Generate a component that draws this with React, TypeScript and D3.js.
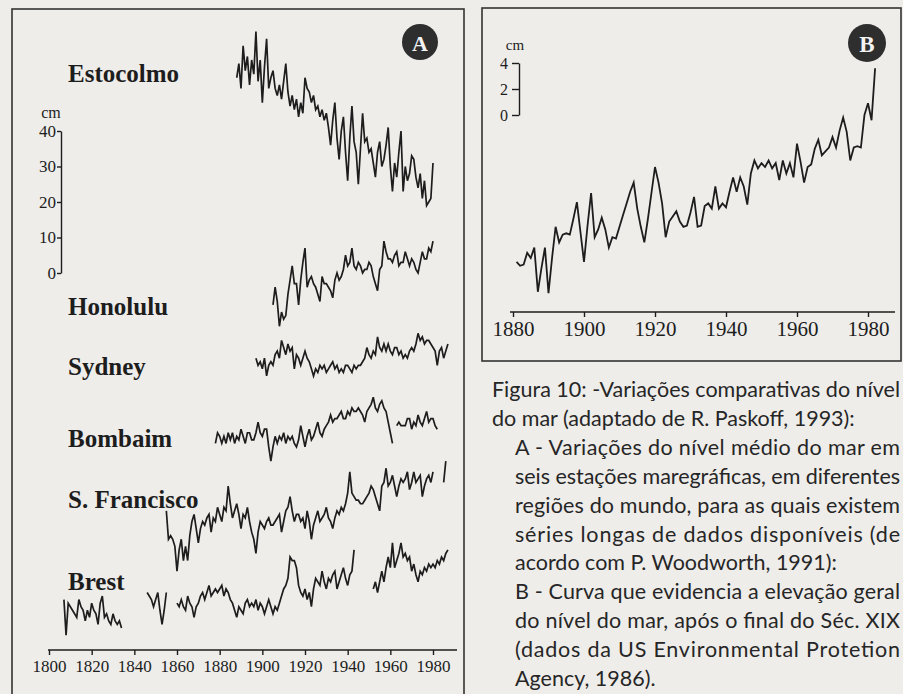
import React, { useEffect, useRef } from "react";
import { select, scaleLinear, line, axisBottom, axisLeft } from "d3";

// ---- panel A: annual mean sea level per tide-gauge station (cm, null = no record)
const stationNames = ["Estocolmo", "Honolulu", "Sydney", "Bombaim", "S. Francisco", "Brest"];
const stationStart = [1888, 1905, 1897, 1878, 1855, 1807];

const estocolmo = [
  15, 19, 12, 24, 17, 21, 13, 20, 16, 28,
  14, 20, 8, 18, 26, 12, 15, 17, 12, 10,
  13, 9, 14, 19, 11, 7, 10, 6, 9, 4,
  8, 5, 15, 12, 11, 8, 10, 6, 7, 4,
  6, 3, 5, 1, -4, 3, 8, -2, -8, 0,
  4, -6, -14, -2, 7, -3, -6, -15, -5, 5,
  -3, -2, -6, -5, -9, -13, -6, -3, -10, -8,
  -4, 1, -10, -17, -9, -13, -6, 0, -17, -10,
  -14, -12, -7, -8, -13, -16, -12, -19, -14, -21,
  -20, -19, -9,
];
const honolulu = [
  -9, -4, -8, -15, -11, -13, -12, -6, -2, 2,
  -3, -3, -9, -2, 3, 7, -4, -2, -1, -3,
  -4, -6, -8, -1, -3, -3, -4, -5, -7, -2,
  0, -2, -1, 1, 5, 2, 3, 7, 2, 1,
  3, 2, 0, 1, 1, 3, 2, -1, -3, -5,
  1, 2, 9, 6, 4, 4, 3, 5, 6, 2,
  3, 3, 6, 4, 2, 4, 3, 1, 0, 3,
  6, 4, 4, 7, 6, 9,
];
const sydney = [
  1, -1, 0, -2, 1, -4, -1, 0, -1, 2,
  3, 1, 6, 4, 2, 5, 3, 4, -2, 2,
  1, -1, 1, 3, 1, 0, -2, -4, -2, -3,
  -1, -2, -1, -3, -2, -1, 0, -2, -1, -3,
  -2, -3, -1, -1, -2, -3, -1, -2, -1, -1,
  0, 1, 4, 2, 1, 3, 2, 7, 4, 3,
  5, 3, 5, 3, 2, 4, 4, 2, 3, 1,
  2, 1, 3, 4, 3, 5, 8, 6, 7, 5,
  6, 6, 5, 4, 3, -1, 3, 4, 1, 3,
  5,
];
const bombaim = [
  2, 5, 4, 2, 4, 2, 5, 3, 5, 2,
  4, 3, 6, 4, 2, 5, 5, 3, 3, 5,
  8, 5, 4, 6, 6, 1, -3, 1, 4, 2,
  4, 3, 5, 2, 4, 3, 4, 2, 1, 3,
  7, 4, 1, 4, 6, 3, 4, 6, 8, 5,
  4, 6, 7, 8, 10, 8, 9, 9, 10, 11,
  9, 9, 11, 10, 12, 11, 11, 12, 11, 10,
  8, 11, 12, 13, 15, 12, 11, 13, 14, 12,
  11, 8, 5, 2,
  null,
  7, 8, 7, 7, 7, 9, 9, 6, 8, 7,
  10, 8, 7, 9, 11, 8, 9, 9, 7, 6,
];
const sFrancisco = [
  8, 0, 1, 0, -2, -9, -3, 0, -6, -2,
  -6, 1, 5, 7, 3, -1, 3, 5, 4, 6,
  7, 2, 6, 5, 9, 7, 5, 9, 8, 15,
  10, 6, 8, 10, 7, 3, 7, 6, 9, 5,
  2, 0, -4, 2, 5, 4, 3, 5, 6, 4,
  4, 5, 6, 7, 2, 5, 8, 9, 12, 8,
  5, 7, 7, 5, 6, 3, 8, 5, 0, 4,
  6, 8, 5, 6, 7, 9, 6, 5, 3, 6,
  8, 7, 9, 8, 10, 13, 19, 13, 12, 11,
  11, 10, 10, 11, 12, 13, 15, 14, 12, 10,
  8, 15, 16, 20, 15, 16, 18, 15, 12, 15,
  17, 16, 17, 19, 14, 16, 19, 16, 17, 18,
  12, 15, 17, 18, 16, 19,
  null, null, null, null,
  16, 22,
];
const brest = [
  8, -2, 7, 6, 5, 4, 3, 8, 6, 5, 2, 5, 3, 7, 5, 4, 1, 7, 9, 3, 4, 2, 1, 4, 2, 1, 2, 0,
  null, null, null, null, null, null, null, null, null, null, null,
  10, 9, 8, 6, 8, 10, 5, 1, 5, 10,
  null, null, null, null,
  7, 6, 8, 6, 5, 9, 7, 6, 3, 6,
  7, 9, 10, 8, 10, 12, 9, 10, 11, 10,
  11, 12, 9, 11, 10, 8, 7, 5, 3, 6,
  5, 4, 7, 8, 6, 7, 6, 8, 5, 7,
  6, 4, 6, 8, 6, 4, 6, 5, 7, 9,
  11, 12, 14, 20, 19, 19, 17, 12, 10, 9,
  11, 8, 10, 6, 11, 14, 13, 12, 16, 13,
  11, 14, 13, 15, 16, 11, 13, 15, 17, 14,
  12, 15, 16, 22,
  null, null, null, null, null, null, null, null,
  11, 13, 10, 13, 16, 13, 17, 20, 17, 24,
  17, 19, 21, 24, 20, 21, 19, 20, 16, 18,
  15, 13, 16, 15, 17, 16, 18, 17, 18, 17,
  19, 18, 20, 19, 21, 22,
];
const stationSeries = [estocolmo, honolulu, sydney, bombaim, sFrancisco, brest];

const yearTicksA = [1800, 1820, 1840, 1860, 1880, 1900, 1920, 1940, 1960, 1980];
const cmTicksA = [0, 10, 20, 30, 40];

// ---- panel B: global mean sea level (cm)
const globalStart = 1881;
const globalLevel = [
  -11.3, -11.6, -11.5, -10.6, -11.0, -10.2, -13.6, -11.8, -10.2, -13.7,
  -11.0, -8.6, -9.8, -9.2, -9.1, -9.2, -8.0, -6.7, -9.0, -11.3,
  -8.5, -6.0, -9.4, -8.8, -7.9, -8.8, -10.2, -9.4, -9.5, -8.6,
  -7.7, -6.8, -5.9, -5.2, -7.2, -8.6, -9.8, -8.0, -6.0, -4.0,
  -5.2, -6.8, -9.4, -8.2, -7.8, -7.4, -8.2, -8.6, -8.5, -7.5,
  -6.3, -8.6, -8.5, -7.0, -6.8, -7.2, -5.5, -7.2, -6.8, -7.1,
  -5.9, -4.8, -5.9, -4.8, -5.5, -6.9, -4.5, -3.5, -4.1, -3.7,
  -4.0, -3.5, -4.1, -3.7, -5.0, -3.5, -4.5, -3.7, -4.8, -2.2,
  -3.6, -5.2, -4.0, -3.8, -2.6, -1.9, -3.1, -2.8, -2.5, -1.7,
  -2.5, -1.2, -0.2, -1.3, -3.5, -2.5, -2.4, -2.5, 0.0, 0.9,
  -0.4, 3.6,
];
const yearTicksB = [1880, 1900, 1920, 1940, 1960, 1980];
const cmTicksB = [0, 2, 4];

const captionLines = [
  "Figura 10: -Variações comparativas do nível",
  "do mar (adaptado de R. Paskoff, 1993):",
  "A - Variações do nível médio do mar em",
  "seis estações maregráficas, em diferentes",
  "regiões do mundo, para as quais existem",
  "séries longas de dados disponíveis (de",
  "acordo com P. Woodworth, 1991):",
  "B - Curva que evidencia a elevação geral",
  "do nível do mar, após o final do Séc. XIX",
  "(dados da US Environmental Protetion",
  "Agency, 1986).",
];

// layout (pixels / lane shifts), kept apart from the data
const W = 903;
const H = 694;
const LANE_SHIFT_CM = [40, 0, -25, -50, -75, -100];
const LABEL_Y = [82, 315, 375, 447, 508, 590];
const CAPTION_X0 = [492, 492, 515, 515, 515, 515, 515, 515, 515, 515, 515];
// right edge for justified lines, 0 = paragraph end (natural width)
const CAPTION_X1 = [900, 0, 900, 900, 900, 900, 0, 900, 900, 900, 0];

const PAPER = "#eeedea";
const INK = "#1d1d1d";
const FRAME = "#333333";
const SERIF = "'Liberation Serif', 'Times New Roman', serif";
const SANS = "Lato, 'Open Sans', sans-serif";

function App() {
  const svgRef = useRef<SVGSVGElement>(null);

  useEffect(() => {
    const svg = select(svgRef.current);
    svg.selectAll("*").remove();
    svg.append("rect").attr("width", W).attr("height", H).attr("fill", PAPER);

    // ---------- panel A
    const xA = scaleLinear().domain([1800, 1980]).range([49, 433]);
    const yA = scaleLinear().domain([0, 40]).range([273, 131]);
    const a = svg.append("g");

    a.append("rect")
      .attr("x", 12).attr("y", 9).attr("width", 452).attr("height", 720)
      .attr("fill", "none").attr("stroke", FRAME).attr("stroke-width", 1.6);

    stationSeries.forEach((vals, k) => {
      const start = stationStart[k];
      const shift = LANE_SHIFT_CM[k];
      const gen = line<number | null>()
        .defined(d => d != null)
        .x((_, i) => xA(start + i))
        .y(d => yA((d as number) + shift));
      a.append("path")
        .attr("d", gen(vals))
        .attr("fill", "none")
        .attr("stroke", INK)
        .attr("stroke-width", 1.7);
    });

    a.selectAll("text.station")
      .data(stationNames)
      .join("text")
      .attr("class", "station")
      .attr("x", 68)
      .attr("y", (_, i) => LABEL_Y[i])
      .attr("font-family", SERIF)
      .attr("font-weight", 700)
      .attr("font-size", 25)
      .attr("fill", INK)
      .text(d => d);

    const axA = a.append("g")
      .attr("transform", "translate(0,650)")
      .call(axisBottom(xA).tickValues(yearTicksA).tickSize(5).tickPadding(5).tickFormat(d => String(d)));
    axA.select(".domain").remove();
    axA.append("line").attr("x1", 48).attr("x2", 457).attr("stroke", INK).attr("stroke-width", 1.5);
    axA.selectAll(".tick line").attr("stroke", INK).attr("stroke-width", 1.4);
    axA.selectAll("text").attr("font-family", SERIF).attr("font-size", 17).attr("fill", INK);

    const ayA = a.append("g")
      .attr("transform", "translate(61,0)")
      .call(axisLeft(yA).tickValues(cmTicksA).tickSize(4).tickSizeOuter(0).tickPadding(1).tickFormat(d => String(d)));
    ayA.select(".domain").attr("stroke", INK).attr("stroke-width", 1.4);
    ayA.selectAll(".tick line").attr("stroke", INK).attr("stroke-width", 1.4);
    ayA.selectAll("text").attr("font-family", SERIF).attr("font-size", 17).attr("fill", INK);
    a.append("text").attr("x", 51).attr("y", 118).attr("text-anchor", "middle")
      .attr("font-family", SERIF).attr("font-size", 16).attr("fill", INK).text("cm");

    a.append("circle").attr("cx", 420).attr("cy", 42).attr("r", 18).attr("fill", "#2e2e2e");
    a.append("text").attr("x", 420).attr("y", 43).attr("text-anchor", "middle")
      .attr("dominant-baseline", "central").attr("font-family", SERIF).attr("font-weight", 700)
      .attr("font-size", 22).attr("fill", "#f2f2f2").text("A");

    // ---------- panel B
    const xB = scaleLinear().domain([1880, 1980]).range([513, 868]);
    const yB = scaleLinear().domain([0, 4]).range([115, 63]);
    const b = svg.append("g");

    b.append("rect")
      .attr("x", 482).attr("y", 8).attr("width", 419).attr("height", 353)
      .attr("fill", "none").attr("stroke", FRAME).attr("stroke-width", 1.6);

    const genB = line<number>()
      .x((_, i) => xB(globalStart + i))
      .y(d => yB(d));
    b.append("path")
      .attr("d", genB(globalLevel))
      .attr("fill", "none")
      .attr("stroke", INK)
      .attr("stroke-width", 1.8);

    const axB = b.append("g")
      .attr("transform", "translate(0,312)")
      .call(axisBottom(xB).tickValues(yearTicksB).tickSize(5).tickPadding(4).tickFormat(d => String(d)));
    axB.select(".domain").remove();
    axB.append("line").attr("x1", 510).attr("x2", 895).attr("stroke", INK).attr("stroke-width", 1.5);
    axB.selectAll(".tick line").attr("stroke", INK).attr("stroke-width", 1.4);
    axB.selectAll("text").attr("font-family", SERIF).attr("font-size", 21).attr("fill", INK);

    const ayB = b.append("g")
      .attr("transform", "translate(519,0)")
      .call(axisLeft(yB).tickValues(cmTicksB).tickSize(7).tickSizeOuter(0).tickPadding(4).tickFormat(d => String(d)));
    ayB.select(".domain").attr("stroke", INK).attr("stroke-width", 1.4);
    ayB.selectAll(".tick line").attr("stroke", INK).attr("stroke-width", 1.4);
    ayB.selectAll("text").attr("font-family", SERIF).attr("font-size", 16).attr("fill", INK);
    b.append("text").attr("x", 515).attr("y", 50).attr("text-anchor", "middle")
      .attr("font-family", SERIF).attr("font-size", 15).attr("fill", INK).text("cm");

    b.append("circle").attr("cx", 867).attr("cy", 43).attr("r", 19).attr("fill", "#2e2e2e");
    b.append("text").attr("x", 867).attr("y", 44).attr("text-anchor", "middle")
      .attr("dominant-baseline", "central").attr("font-family", SERIF).attr("font-weight", 700)
      .attr("font-size", 23).attr("fill", "#f2f2f2").text("B");

    // ---------- caption (justified lines stretched to the right margin)
    const cap = svg.append("g")
      .selectAll("text")
      .data(captionLines)
      .join("text")
      .attr("x", (_, i) => CAPTION_X0[i])
      .attr("y", (_, i) => 397 + i * 28.9)
      .attr("font-family", SANS)
      .attr("font-size", 21.5)
      .attr("fill", "#262626")
      .text(d => d);
    cap.filter((_, i) => CAPTION_X1[i] > 0)
      .attr("textLength", (_, i, nodes) => {
        const idx = captionLines.indexOf((nodes[i] as SVGTextElement).textContent || "");
        return CAPTION_X1[idx] - CAPTION_X0[idx];
      })
      .attr("lengthAdjust", "spacing");
  }, []);

  return (
    <div style={{ position: "absolute", left: 0, top: 0 }}>
      <svg ref={svgRef} width={W} height={H} style={{ display: "block" }} />
    </div>
  );
}

export default App;
